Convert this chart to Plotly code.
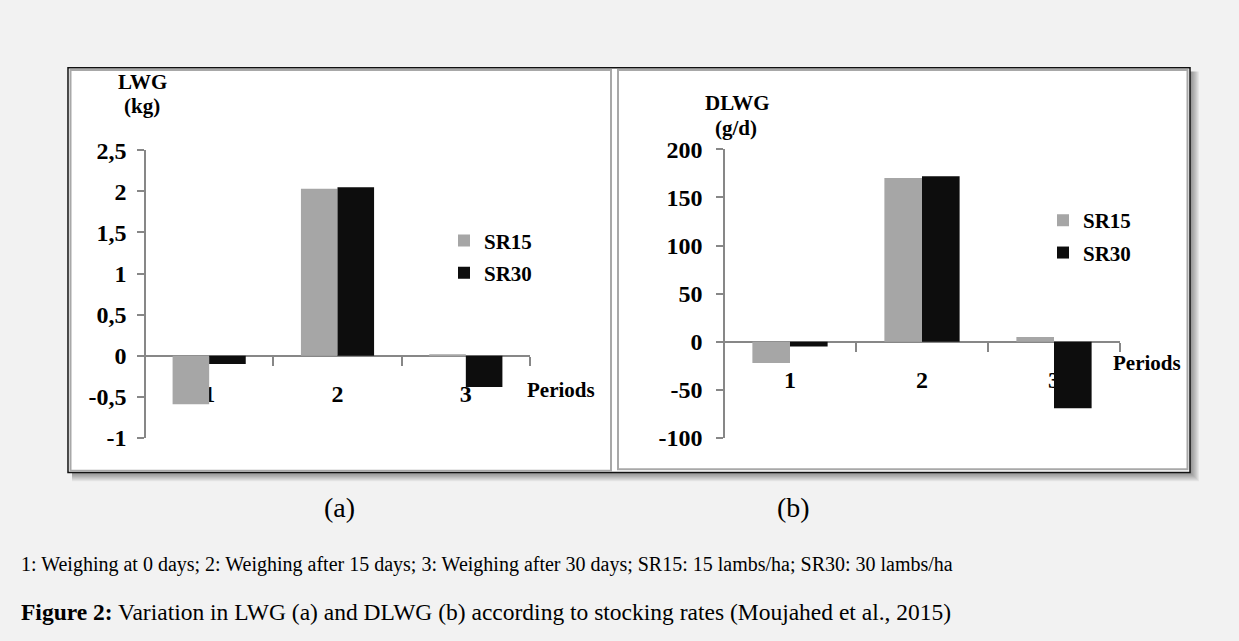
import plotly.graph_objects as go

W, H = 1239, 641

# ---------------- data ----------------
periods = ["1", "2", "3"]
lwg_sr15 = [-0.59, 2.03, 0.02]
lwg_sr30 = [-0.10, 2.05, -0.38]
dlwg_sr15 = [-22, 170, 5]
dlwg_sr30 = [-5, 172, -69]
series_names = ["SR15", "SR30"]
lwg_ticks = [-1, -0.5, 0, 0.5, 1, 1.5, 2, 2.5]
lwg_ticktext = ["-1", "-0,5", "0", "0,5", "1", "1,5", "2", "2,5"]
dlwg_ticks = [-100, -50, 0, 50, 100, 150, 200]
dlwg_ticktext = ["-100", "-50", "0", "50", "100", "150", "200"]
caption1 = "1: Weighing at 0 days; 2: Weighing after 15 days; 3: Weighing after 30 days; SR15: 15 lambs/ha; SR30: 30 lambs/ha"
caption2 = "<b>Figure 2:</b> Variation in LWG (a) and DLWG (b) according to stocking rates (Moujahed et al., 2015)"

C15 = "#a6a6a6"
C30 = "#0d0d0d"
AX = "#878787"
FONT = "Liberation Serif"


def X(px):
    return px / W


def Y(py):
    return 1 - py / H


fig = go.Figure()
fig.add_trace(go.Bar(x=periods, y=lwg_sr15, name=series_names[0], marker_color=C15,
                     marker_line_width=0, xaxis="x", yaxis="y", legend="legend", legendgroup="a"))
fig.add_trace(go.Bar(x=periods, y=lwg_sr30, name=series_names[1], marker_color=C30,
                     marker_line_width=0, xaxis="x", yaxis="y", legend="legend", legendgroup="b"))
fig.add_trace(go.Bar(x=periods, y=dlwg_sr15, name=series_names[0], marker_color=C15,
                     marker_line_width=0, xaxis="x2", yaxis="y2", legend="legend2", legendgroup="c"))
fig.add_trace(go.Bar(x=periods, y=dlwg_sr30, name=series_names[1], marker_color=C30,
                     marker_line_width=0, xaxis="x2", yaxis="y2", legend="legend2", legendgroup="d"))

y1dom = [Y(443), Y(143)]
y2dom = [Y(443), Y(142)]
y1rng = [-1, 2.5]
y2rng = [-100, 200]


def zero_pos(dom, rng):
    return dom[0] + (0 - rng[0]) / (rng[1] - rng[0]) * (dom[1] - dom[0])


tickfont = dict(family=FONT, size=24, color="black", weight="bold")

xax = dict(type="category", categoryorder="array", categoryarray=periods,
           tickson="boundaries", ticks="outside", ticklen=9, tickcolor=AX, tickwidth=1.5,
           showline=True, linecolor=AX, linewidth=1.5, showgrid=False, zeroline=False,
           layer="below traces", tickfont=tickfont, ticklabelstandoff=17, fixedrange=True)
yax = dict(ticks="outside", ticklen=7, tickcolor=AX, tickwidth=1.5, showline=True,
           linecolor=AX, linewidth=1.5, showgrid=False, zeroline=False,
           tickfont=tickfont, fixedrange=True)

legfont = dict(family=FONT, size=21, color="black", weight="bold")

fig.update_layout(
    width=W, height=H,
    margin=dict(l=0, r=0, t=0, b=0),
    paper_bgcolor="#f2f2f2",
    plot_bgcolor="rgba(0,0,0,0)",
    barmode="group", bargap=0.43, bargroupgap=0,
    showlegend=True,
    xaxis=dict(xax, domain=[X(145), X(530)], anchor="free", position=zero_pos(y1dom, y1rng)),
    yaxis=dict(yax, domain=y1dom, range=y1rng, tickvals=lwg_ticks, ticktext=lwg_ticktext,
               anchor="free", position=X(145), ticklabelstandoff=6),
    xaxis2=dict(xax, domain=[X(724), X(1120)], anchor="free", position=zero_pos(y2dom, y2rng)),
    yaxis2=dict(yax, domain=y2dom, range=y2rng, tickvals=dlwg_ticks, ticktext=dlwg_ticktext,
                anchor="free", position=X(724), ticklabelstandoff=9),
    legend=dict(x=X(444), y=Y(216), xanchor="left", yanchor="top", bgcolor="rgba(0,0,0,0)",
                font=legfont, traceorder="grouped", tracegroupgap=2, itemclick=False),
    legend2=dict(x=X(1043), y=Y(195), xanchor="left", yanchor="top", bgcolor="rgba(0,0,0,0)",
                 font=legfont, traceorder="grouped", tracegroupgap=2, itemclick=False),
)

# frames and shadow
shapes = []
for k in range(1, 10):
    shapes.append(dict(type="rect", xref="paper", yref="paper", layer="below",
                       x0=X(72), x1=X(1190 + k), y0=Y(479 + k), y1=Y(61),
                       fillcolor="rgba(0,0,0,0.05)", line_width=0))
shapes.append(dict(type="rect", xref="paper", yref="paper", layer="below",
                   x0=X(68), x1=X(1190), y0=Y(479), y1=Y(57),
                   fillcolor="white", line=dict(color="#111111", width=1.5)))
shapes.append(dict(type="rect", xref="paper", yref="paper", layer="below",
                   x0=X(70.5), x1=X(611), y0=Y(477), y1=Y(59.5),
                   fillcolor="rgba(0,0,0,0)", line=dict(color="#a8a8a8", width=2)))
shapes.append(dict(type="rect", xref="paper", yref="paper", layer="below",
                   x0=X(618), x1=X(1187.5), y0=Y(475.5), y1=Y(59.5),
                   fillcolor="rgba(0,0,0,0)", line=dict(color="#a8a8a8", width=2)))
fig.update_layout(shapes=shapes)

bold = dict(family=FONT, size=21, color="black", weight="bold")
anns = [
    dict(text="LWG", x=X(142), y=Y(72), font=bold),
    dict(text="(kg)", x=X(142), y=Y(97), font=bold),
    dict(text="DLWG", x=X(737), y=Y(94), font=bold),
    dict(text="(g/d)", x=X(736), y=Y(120), font=bold),
    dict(text="Periods", x=X(525), y=Y(393), xanchor="left", font=bold),
    dict(text="Periods", x=X(1111), y=Y(365), xanchor="left", font=bold),
    dict(text="(a)", x=X(339), y=Y(515), font=dict(family=FONT, size=28, color="black")),
    dict(text="(b)", x=X(793), y=Y(515), font=dict(family=FONT, size=28, color="black")),
    dict(text=caption1, x=X(19), y=Y(575), xanchor="left",
         font=dict(family=FONT, size=20, color="black")),
    dict(text=caption2, x=X(19), y=Y(624), xanchor="left",
         font=dict(family=FONT, size=23.5, color="black")),
]
for a in anns:
    a.setdefault("xanchor", "center")
    a.update(xref="paper", yref="paper", yanchor="middle", showarrow=False)
fig.update_layout(annotations=anns)

fig.write_html("out.html", config={"displayModeBar": False},
               post_script="document.body.style.margin='0';document.body.style.background='#f2f2f2';")
